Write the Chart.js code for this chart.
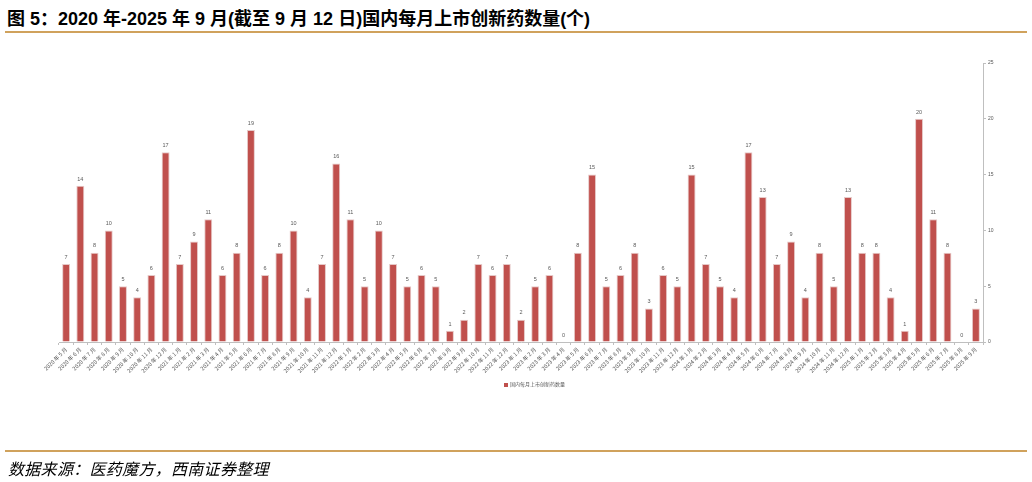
<!DOCTYPE html>
<html>
<head>
<meta charset="utf-8">
<script src="https://cdn.jsdelivr.net/npm/chart.js@4/dist/chart.umd.min.js"></script>
<style>
  body { margin: 0; width: 1032px; height: 482px; background: #fff; position: relative; overflow: hidden; }
  #title { position: absolute; left: 7px; top: 4px; font: bold 18px "Liberation Sans", "Noto Sans CJK SC", sans-serif; color: #000; white-space: nowrap; }
  .rule { position: absolute; left: 5px; width: 1022px; height: 2px; background: #d0a25c; }
  #source { position: absolute; left: 8px; top: 456px; font: italic 16px "Noto Sans CJK SC", sans-serif; letter-spacing: 0.3px; color: #000; white-space: nowrap; }
  #legend { position: absolute; left: 504px; top: 380px; font: 5px "Noto Sans CJK SC", sans-serif; color: #595959; white-space: nowrap; }
  #legend i { display: inline-block; width: 4px; height: 4px; background: #c0504d; margin-right: 2px; vertical-align: middle; }
  #wrap { position: absolute; left: 0; top: 0; width: 1032px; height: 482px; }
</style>
</head>
<body>
<div id="title">图 5：2020 年-2025 年 9 月(截至 9 月 12 日)国内每月上市创新药数量(个)</div>
<div class="rule" style="top:31px"></div>
<div id="wrap"><canvas id="chart"></canvas></div>
<div id="legend"><i></i>国内每月上市创新药数量</div>
<div class="rule" style="top:450px"></div>
<div id="source">数据来源：医药魔方，西南证券整理</div>
<script>
// months 2020-05 .. 2025-09
const months = [
  "2020 年 5 月", "2020 年 6 月", "2020 年 7 月", "2020 年 8 月", "2020 年 9 月", "2020 年 10 月", "2020 年 11 月", "2020 年 12 月",
  "2021 年 1 月", "2021 年 2 月", "2021 年 3 月", "2021 年 4 月", "2021 年 5 月", "2021 年 6 月", "2021 年 7 月", "2021 年 8 月", "2021 年 9 月", "2021 年 10 月", "2021 年 11 月", "2021 年 12 月",
  "2022 年 1 月", "2022 年 2 月", "2022 年 3 月", "2022 年 4 月", "2022 年 5 月", "2022 年 6 月", "2022 年 7 月", "2022 年 8 月", "2022 年 9 月", "2022 年 10 月", "2022 年 11 月", "2022 年 12 月",
  "2023 年 1 月", "2023 年 2 月", "2023 年 3 月", "2023 年 4 月", "2023 年 5 月", "2023 年 6 月", "2023 年 7 月", "2023 年 8 月", "2023 年 9 月", "2023 年 10 月", "2023 年 11 月", "2023 年 12 月",
  "2024 年 1 月", "2024 年 2 月", "2024 年 3 月", "2024 年 4 月", "2024 年 5 月", "2024 年 6 月", "2024 年 7 月", "2024 年 8 月", "2024 年 9 月", "2024 年 10 月", "2024 年 11 月", "2024 年 12 月",
  "2025 年 1 月", "2025 年 2 月", "2025 年 3 月", "2025 年 4 月", "2025 年 5 月", "2025 年 6 月", "2025 年 7 月", "2025 年 8 月", "2025 年 9 月"
];

const newDrugs = [
  7, 14, 8, 10, 5, 4, 6, 17,
  7, 9, 11, 6, 8, 19, 6, 8, 10, 4, 7, 16,
  11, 5, 10, 7, 5, 6, 5, 1, 2, 7, 6, 7,
  2, 5, 6, 0, 8, 15, 5, 6, 8, 3, 6, 5,
  15, 7, 5, 4, 17, 13, 7, 9, 4, 8, 5, 13,
  8, 8, 4, 1, 20, 11, 8, 0, 3
];

const yTicks = [0, 5, 10, 15, 20, 25];

/* =========================
   VALUE LABELS
========================= */

const valueLabels = {
  id: "valueLabels",
  afterDatasetsDraw(chart) {
    const ctx = chart.ctx;
    const meta = chart.getDatasetMeta(0);
    ctx.save();
    ctx.font = "5.5px 'Liberation Sans', sans-serif";
    ctx.fillStyle = "#595959";
    ctx.textAlign = "center";
    ctx.textBaseline = "bottom";
    meta.data.forEach((bar, i) => {
      ctx.fillText(String(newDrugs[i]), bar.x, bar.y - 4);
    });
    ctx.restore();
  },
};

/* =========================
   CHART
========================= */

new Chart(document.getElementById("chart"), {
  type: "bar",
  data: {
    labels: months,
    datasets: [
      {
        label: "国内每月上市创新药数量",
        data: newDrugs,
        backgroundColor: "#c0504d",
        borderColor: "#e6c9c8",
        borderWidth: 1,
        categoryPercentage: 1,
        barPercentage: 0.56,
      },
    ],
  },
  options: {
    responsive: true,
    maintainAspectRatio: false,
    animation: false,
    layout: { padding: { left: 59, top: 63, right: 0, bottom: 0 } },
    plugins: { legend: { display: false }, tooltip: { enabled: false } },
    scales: {
      x: {
        offset: true,
        grid: { display: true, drawOnChartArea: false, color: "#bfbfbf", tickLength: 3, offset: true },
        border: { color: "#bfbfbf" },
        ticks: {
          autoSkip: false,
          maxRotation: 45,
          minRotation: 45,
          padding: 1,
          color: "#595959",
          font: { size: 5.5, family: "'Noto Sans CJK SC', sans-serif" },
        },
        afterFit(scale) { scale.height = 140; },
      },
      y: {
        position: "right",
        min: 0,
        max: 25,
        grid: { display: true, drawOnChartArea: false, color: "#bfbfbf", tickLength: 3 },
        border: { color: "#bfbfbf" },
        afterBuildTicks(scale) { scale.ticks = yTicks.map((v) => ({ value: v })); },
        ticks: {
          padding: 2,
          color: "#595959",
          font: { size: 5, family: "'Liberation Sans', sans-serif" },
        },
        afterFit(scale) { scale.width = 49; },
      },
    },
  },
  plugins: [valueLabels],
});
</script>
</body>
</html>
